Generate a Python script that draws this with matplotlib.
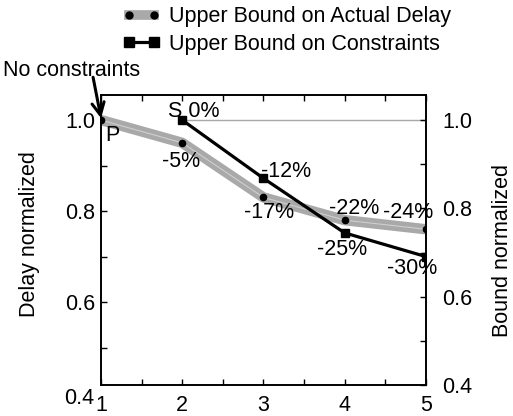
import matplotlib
matplotlib.use('Agg')
import matplotlib.pyplot as plt
import numpy as np

plt.rcParams['font.family'] = ['Liberation Sans', 'DejaVu Sans']
plt.rcParams['font.size'] = 15.5

# data
x_delay = [1, 2, 3, 4, 5]
delay = [1.0, 0.95, 0.83, 0.78, 0.76]
delay_labels = ['P', '-5%', '-17%', '-22%', '-24%']

x_bound = [2, 3, 4, 5]
bound = [1.0, 0.872, 0.752, 0.70]
bound_labels = ['S 0%', '-12%', '-25%', '-30%']

xticks = [1, 2, 3, 4, 5]
left_ticks = [0.6, 0.8, 1.0]
right_ticks = [0.4, 0.6, 0.8, 1.0]

fig = plt.figure(figsize=(5.13, 4.16), dpi=100)
ax = fig.add_axes([0.197, 0.0745, 0.633, 0.697])
ax2 = ax.twinx()

# reference line at 1.0
ax.plot([x_bound[0], x_delay[-1]], [1.0, 1.0], color='#a8a8a8', lw=1, zorder=1)

# thick grey delay line with a lighter stripe inside
ax.plot(x_delay, delay, color='#a9a9a9', lw=7.5, solid_capstyle='round',
        solid_joinstyle='round', zorder=2)
ax.plot(x_delay, delay, color='#cfcfcf', lw=0.8, zorder=2)
ax.plot(x_delay, delay, 'o', color='black', ms=4.5, zorder=4)

ax.plot(x_bound, bound, '-s', color='black', lw=2.3, ms=6, zorder=3)

# legend proxies
h1, = ax.plot([], [], '-o', color='#a9a9a9', lw=7, mfc='black', mec='black', ms=5)
h2, = ax.plot([], [], '-s', color='black', lw=2.3, ms=7)
fig.legend([h1, h2], ['Upper Bound on Actual Delay', 'Upper Bound on Constraints'],
           loc='upper left', bbox_to_anchor=(0.235, 0.99), frameon=False,
           numpoints=2, handlelength=1.75, handletextpad=0.4,
           labelspacing=0.3, borderpad=0.1, borderaxespad=0)

# point labels (offsets in pixels, measured on the reference)
d_off = [(11, -15), (-1, -19), (6, -15), (10, 12), (-18, 17)]
for xv, yv, lab, off in zip(x_delay, delay, delay_labels, d_off):
    ax.annotate(lab, (xv, yv), xytext=off, textcoords='offset pixels',
                ha='center', va='center')
b_off = [(12, 9), (23, 7), (-3, -17), (-14, -12)]
for xv, yv, lab, off in zip(x_bound, bound, bound_labels, b_off):
    ax.annotate(lab, (xv, yv), xytext=off, textcoords='offset pixels',
                ha='center', va='center')

# no constraints arrow
ax.annotate('', xy=(1.0, 1.004), xytext=(-8, 41), textcoords='offset pixels',
            arrowprops=dict(arrowstyle='->', lw=2.2, color='black',
                            mutation_scale=22, shrinkA=0, shrinkB=0),
            annotation_clip=False)
fig.text(3 / 513, 1 - 70 / 416, 'No constraints', ha='left', va='center')

ax.set_xlim(1, 5)
ax.set_ylim(0.4176, 1.055)
ax2.set_ylim(0.4, 1.057)

ax.set_xticks(xticks)
ax.set_xticks(np.arange(1, 5.01, 0.5), minor=True)
ax.set_yticks(left_ticks)
ax.set_yticklabels(['%.1f' % t for t in left_ticks])
ax.set_yticks(np.arange(0.5, 1.01, 0.1), minor=True)
ax2.set_yticks(right_ticks)
ax2.set_yticklabels(['%.1f' % t for t in right_ticks])
ax2.set_yticks(np.arange(0.5, 1.01, 0.1), minor=True)

# the 0.4 label on the left sits below the axis in the reference
ax.text(-0.02, -0.045, '0.4', transform=ax.transAxes, ha='right', va='center')

ax.tick_params(axis='both', which='both', direction='in', top=True, length=4, width=1)
ax.tick_params(axis='x', pad=7)
ax.tick_params(axis='y', pad=4)
ax2.tick_params(axis='y', which='both', direction='in', length=4, width=1, pad=12)

ax.set_ylabel('Delay normalized')
ax.yaxis.set_label_coords(-0.188, 0.52)
ax2.set_ylabel('Bound normalized')
ax2.yaxis.set_label_coords(1.203, 0.465)

for a in (ax, ax2):
    for s in a.spines.values():
        s.set_linewidth(1.2)

fig.savefig('out.png', dpi=100)
